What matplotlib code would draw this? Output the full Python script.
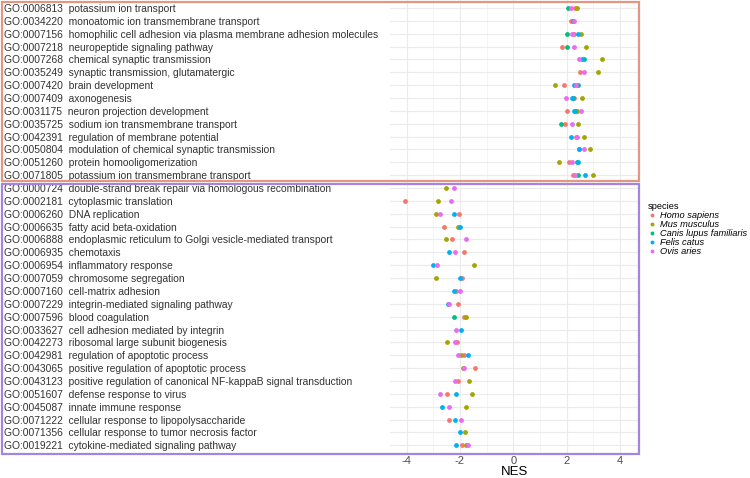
import numpy as np
import matplotlib.pyplot as plt
import matplotlib.transforms as mtransforms
from matplotlib.patches import Rectangle
from matplotlib.lines import Line2D

plt.rcParams['font.family'] = ['Liberation Sans', 'DejaVu Sans']
plt.rcParams['axes.unicode_minus'] = False

# GO terms, top to bottom
terms = [
    "GO:0006813  potassium ion transport",
    "GO:0034220  monoatomic ion transmembrane transport",
    "GO:0007156  homophilic cell adhesion via plasma membrane adhesion molecules",
    "GO:0007218  neuropeptide signaling pathway",
    "GO:0007268  chemical synaptic transmission",
    "GO:0035249  synaptic transmission, glutamatergic",
    "GO:0007420  brain development",
    "GO:0007409  axonogenesis",
    "GO:0031175  neuron projection development",
    "GO:0035725  sodium ion transmembrane transport",
    "GO:0042391  regulation of membrane potential",
    "GO:0050804  modulation of chemical synaptic transmission",
    "GO:0051260  protein homooligomerization",
    "GO:0071805  potassium ion transmembrane transport",
    "GO:0000724  double-strand break repair via homologous recombination",
    "GO:0002181  cytoplasmic translation",
    "GO:0006260  DNA replication",
    "GO:0006635  fatty acid beta-oxidation",
    "GO:0006888  endoplasmic reticulum to Golgi vesicle-mediated transport",
    "GO:0006935  chemotaxis",
    "GO:0006954  inflammatory response",
    "GO:0007059  chromosome segregation",
    "GO:0007160  cell-matrix adhesion",
    "GO:0007229  integrin-mediated signaling pathway",
    "GO:0007596  blood coagulation",
    "GO:0033627  cell adhesion mediated by integrin",
    "GO:0042273  ribosomal large subunit biogenesis",
    "GO:0042981  regulation of apoptotic process",
    "GO:0043065  positive regulation of apoptotic process",
    "GO:0043123  positive regulation of canonical NF-kappaB signal transduction",
    "GO:0051607  defense response to virus",
    "GO:0045087  innate immune response",
    "GO:0071222  cellular response to lipopolysaccharide",
    "GO:0071356  cellular response to tumor necrosis factor",
    "GO:0019221  cytokine-mediated signaling pathway",
]
n_up = 14

species = ["Homo sapiens", "Mus musculus", "Canis lupus familiaris", "Felis catus", "Ovis aries"]
colors = ["#F8766D", "#A3A500", "#00BF7D", "#00B0F6", "#E76BF3"]
nan = np.nan

# NES per species, same order as terms
homo = [2.31, 2.15, 2.29, 1.84, nan, 2.51, 1.90, 2.28, 2.03, 1.94, 2.35, 2.45, 2.10, 2.25,
        nan, -4.05, -2.05, -2.61, -2.28, -1.84, nan, -1.93, -2.13, -2.06, -1.84, nan, -2.10,
        -1.85, -1.43, -2.08, -2.48, nan, -2.40, nan, -1.94]
mus = [2.40, nan, 2.54, 2.74, 3.34, 3.19, 1.58, 2.56, 2.38, 2.44, 2.65, 2.89, 1.73, 3.00,
       -2.51, -2.81, -2.90, -2.06, -2.53, nan, -1.49, -2.89, nan, nan, -1.78, nan, -2.49,
       -1.95, -1.90, -1.66, -1.54, -1.79, nan, -1.81, -1.76]
canis = [2.06, 2.22, 2.00, 2.01, 2.66, nan, 2.43, 2.24, 2.33, 1.78, nan, nan, 2.40, 2.43,
         nan, nan, nan, nan, nan, nan, nan, nan, nan, nan, -2.24, nan, nan,
         nan, nan, nan, nan, nan, nan, nan, nan]
felis = [nan, nan, 2.43, nan, 2.59, nan, 2.29, 2.21, 2.28, nan, 2.18, 2.48, 2.44, 2.68,
         nan, nan, -2.24, -2.00, nan, -2.41, -3.00, -2.01, -2.23, -2.45, nan, -1.96, nan,
         -1.69, nan, nan, -2.16, -2.69, -2.20, -1.98, -2.15]
ovis = [2.15, 2.29, 2.19, 2.29, 2.46, 2.65, 2.35, 1.96, 2.54, 2.19, 2.39, 2.64, 2.21, 2.33,
        -2.21, -2.35, -2.75, nan, -1.76, -2.18, -2.85, nan, -1.99, -2.42, nan, -2.15, -2.18,
        -2.06, -1.84, -2.20, -2.75, -2.41, -1.95, nan, -1.70]
nes = [homo, mus, canis, felis, ovis]

W, H = 750, 478
fig = plt.figure(figsize=(7.5, 4.78), dpi=100)
ax = fig.add_axes([390 / W, 1 - 454 / H, 249 / W, 453.7 / H])

n = len(terms)
ypos = np.arange(n)[::-1]

for vals, col in zip(nes, colors):
    ax.scatter(vals, ypos, s=12, color=col, linewidths=0, zorder=3)

ax.set_xlim(-4.62, 4.71)
ax.set_ylim(-0.68, n - 1 + 0.6)
ax.set_xticks([-4, -2, 0, 2, 4])
ax.set_xticks([-3, -1, 1, 3], minor=True)
ax.set_yticks(ypos)
ax.set_yticklabels([])
ax.tick_params(axis='both', which='both', length=0)
ax.tick_params(axis='x', labelsize=8, labelcolor='#4D4D4D', pad=1.5)
ax.grid(True, which='major', color='#EBEBEB', linewidth=0.8)
ax.grid(True, which='minor', axis='x', color='#F2F2F2', linewidth=0.5)
ax.set_axisbelow(True)
for s in ax.spines.values():
    s.set_visible(False)
ax.set_xlabel("NES", fontsize=9.5, labelpad=0)

# term labels, left aligned at the figure edge
tr = mtransforms.blended_transform_factory(fig.transFigure, ax.transData)
for y, t in zip(ypos, terms):
    ax.text(4 / W, y, t, transform=tr, ha='left', va='center_baseline', fontsize=7.4,
            color='#333333', clip_on=False)

# boxes around the two groups
fig.patches.append(Rectangle((1.5 / W, 1 - 181 / H), 637.5 / W, 179.5 / H,
                             transform=fig.transFigure, fill=False,
                             edgecolor='#E39683', linewidth=1.6))
fig.patches.append(Rectangle((1.5 / W, 1 - 454 / H), 637.5 / W, 270.5 / H,
                             transform=fig.transFigure, fill=False,
                             edgecolor='#A285E0', linewidth=1.6))

handles = [Line2D([], [], marker='o', linestyle='', markersize=2.8,
                  markerfacecolor=c, markeredgewidth=0) for c in colors]
leg = fig.legend(handles, species, title="species", loc='upper left',
                 bbox_to_anchor=(643 / W, 1 - 197 / H), frameon=False,
                 fontsize=6.7, title_fontsize=6.7, handlelength=0.9,
                 handleheight=0.4, handletextpad=0.4, labelspacing=0.0,
                 borderpad=0, alignment='left')
for t in leg.get_texts():
    t.set_fontstyle('italic')

fig.savefig("out.png", dpi=100)
